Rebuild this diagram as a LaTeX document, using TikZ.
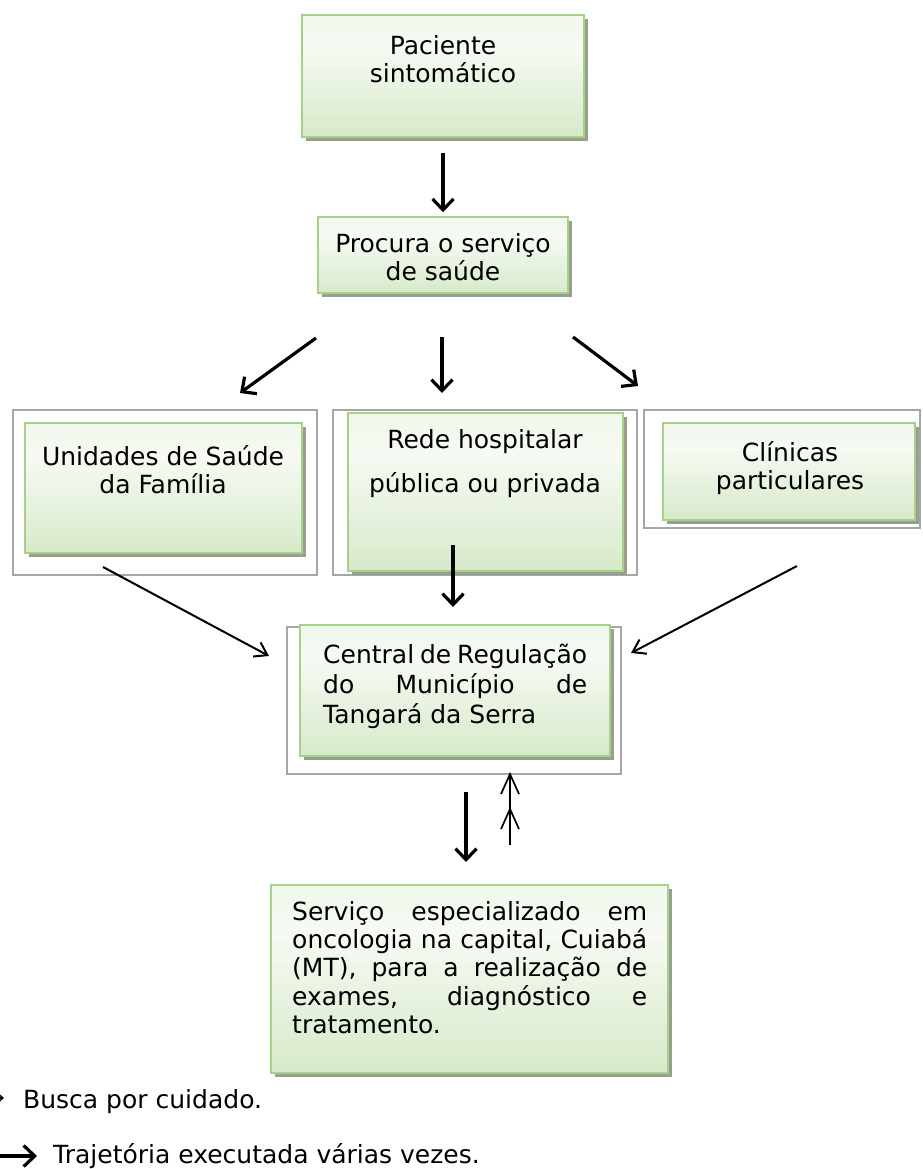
\documentclass[tikz,border=0pt]{standalone}
\usepackage{fontspec}
\setmainfont{DejaVu Sans}
\usetikzlibrary{arrows.meta,shadows}
\definecolor{gtop}{RGB}{220,237,208}
\definecolor{gmid}{RGB}{246,250,243}
\definecolor{gbot}{RGB}{194,222,174}
\definecolor{gborder}{RGB}{168,208,141}
\definecolor{gshadow}{RGB}{150,160,140}
\definecolor{obox}{RGB}{166,166,166}
\pgfdeclareverticalshading{gboxshade}{100bp}{color(0bp)=(gbot); color(62bp)=(gmid); color(85bp)=(gmid!60!gtop); color(100bp)=(gtop)}
\newcommand\fstrut{\rule{0pt}{21pt}}
\newcommand\jfontD{\fontsize{25}{30}\selectfont\spaceskip=0.318em plus 0.6em minus 0.15em\relax}
\newcommand\jfontE{\fontsize{25}{28.3}\selectfont\spaceskip=0.318em plus 0.8em minus 0.15em\relax}
\hyphenpenalty=10000
\exhyphenpenalty=10000
\begin{document}
\begin{tikzpicture}[x=1pt,y=-1pt,
  gbox/.style={draw=gborder, line width=1.5pt, shading=gboxshade, inner sep=0pt,
    drop shadow={shadow xshift=4pt, shadow yshift=-4pt, fill=gshadow, opacity=1}},
  obx/.style={draw=obox, line width=2pt, inner sep=0pt},
  txt/.style={inner sep=0pt, font=\fontsize{25}{28.5}\selectfont, align=center, anchor=north},
  jtxt/.style={inner sep=0pt, align=justify, anchor=north west},
  thk/.style={line width=3.2pt, -{Straight Barb[length=11pt,width=21pt,line width=3.2pt]}},
  thn/.style={line width=2pt, -{Straight Barb[length=12pt,width=16pt,line width=2pt]}},
  thnup/.style={line width=1.7pt, -{Straight Barb[length=20pt,width=18pt,line width=1.7pt]}}
]
\clip (0,0) rectangle (922,1169);
\fill[white] (0,0) rectangle (922,1169);

% outer gray frames
\node[obx, minimum width=304pt, minimum height=165pt] (o1) at (165,492.5) {};
\node[obx, minimum width=304pt, minimum height=165pt] (o2) at (485,492.5) {};
\node[obx, minimum width=276pt, minimum height=118pt] (o3) at (782,469) {};
\node[obx, minimum width=334pt, minimum height=147pt] (o4) at (454,700.5) {};

% green boxes
\node[gbox, minimum width=282pt, minimum height=122pt] (A) at (443,76) {};
\node[gbox, minimum width=250pt, minimum height=76pt] (B) at (443,255) {};
\node[gbox, minimum width=277pt, minimum height=130pt] (C1) at (163.5,488) {};
\node[gbox, minimum width=275pt, minimum height=158pt] (C2) at (485.5,492) {};
\node[gbox, minimum width=252pt, minimum height=97pt] (C3) at (789,471.5) {};
\node[gbox, minimum width=310pt, minimum height=131pt] (D) at (455,690.5) {};
\node[gbox, minimum width=397pt, minimum height=188pt] (E) at (469.5,979) {};

% texts
\node[txt] (tA) at (443,33) {\fstrut Paciente\\sintomático};
\node[txt] (tB) at (443,231) {\fstrut Procura o serviço\\de saúde};
\node[txt] (tC1) at (163,444) {\fstrut Unidades de Saúde\\da Família};
\node[txt] (tC2) at (485,427) {\fstrut Rede hospitalar\\[15.5pt]pública ou privada};
\node[txt] (tC3) at (790,440) {\fstrut Clínicas\\particulares};
\node[jtxt, text width=264pt, font=\jfontD] (tD) at (323,642)
  {\fstrut Central de Regulação\linebreak do Município de\linebreak Tangará da Serra};
\node[jtxt, text width=355pt, font=\jfontE] (tE) at (292,899)
  {\fstrut Serviço especializado em\linebreak oncologia na capital, Cuiabá\linebreak (MT), para a realização de\linebreak exames, diagnóstico e\linebreak tratamento.};

% legend
\node[txt, anchor=north west] (l1) at (23,1087) {\fstrut Busca por cuidado.};
\node[txt, anchor=north west] (l2) at (53,1142) {\fstrut Trajetória executada várias vezes.};

% connector end points
\coordinate (b1s) at (316,338); \coordinate (b1e) at (240,393);
\coordinate (b2s) at (442,337); \coordinate (b2e) at (442,393);
\coordinate (b3s) at (573,337); \coordinate (b3e) at (638,386);
\coordinate (c1s) at (103,567); \coordinate (c1e) at (269,656);
\coordinate (c2s) at (453,545); \coordinate (c2e) at (453,607);
\coordinate (c3s) at (797,566); \coordinate (c3e) at (631,653);
\coordinate (d1s) at (466,792); \coordinate (d1e) at (466,862);
\coordinate (u1s) at (510,845); \coordinate (u1m) at (510,807); \coordinate (u1e) at (510,772);
\coordinate (lg1s) at (-12,1098); \coordinate (lg1e) at (4,1098);
\coordinate (lg2s) at (0,1156); \coordinate (lg2e) at (37,1156);

% arrows
\draw[thk, shorten <=15pt, shorten >=4pt] (A) -- (B);
\draw[thk] (b1s) -- (b1e);
\draw[thk] (b2s) -- (b2e);
\draw[thk] (b3s) -- (b3e);
\draw[thn] (c1s) -- (c1e);
\draw[thk] (c2s) -- (c2e);
\draw[thn] (c3s) -- (c3e);
\draw[thk] (d1s) -- (d1e);
\draw[thnup] (u1s) -- (u1m);
\draw[thnup] (u1s) -- (u1e);
\draw[line width=1.2pt, -{Straight Barb[length=4pt,width=7pt,line width=1.2pt]}] (lg1s) -- (lg1e);
\draw[thk] (lg2s) -- (lg2e);
\end{tikzpicture}
\end{document}
